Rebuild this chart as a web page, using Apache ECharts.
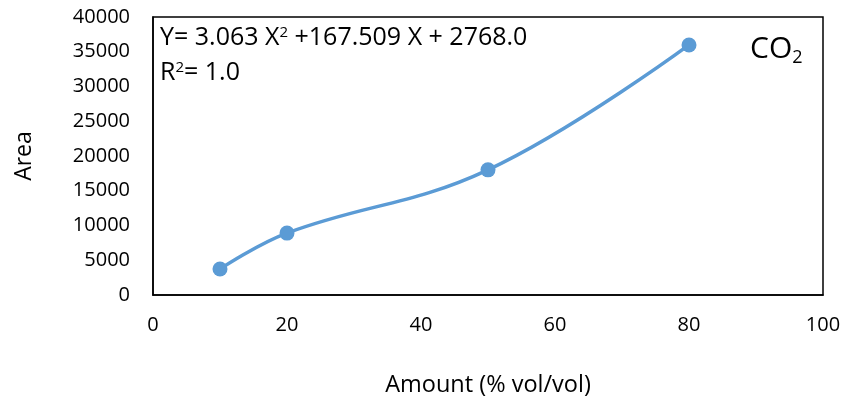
<!DOCTYPE html>
<html><head><meta charset="utf-8">
<script src="https://cdn.jsdelivr.net/npm/echarts@6/dist/echarts.min.js"></script>
<style>html,body{margin:0;padding:0;background:#fff}#c{width:846px;height:402px}</style>
</head><body><div id="c"></div>
<script>
const amounts = [10, 20, 50, 80];
const areas = [3740, 8910, 18010, 35980];
const xTicks = [0, 20, 40, 60, 80, 100];
const yTicks = [0, 5000, 10000, 15000, 20000, 25000, 30000, 35000, 40000];
const FONT = '"Open Sans", "Noto Sans", sans-serif';

const chart = echarts.init(document.getElementById('c'), null, {renderer: 'canvas'});
chart.setOption({
  animation: false,
  backgroundColor: '#fff',
  grid: {left: 153, right: 23, top: 17, bottom: 107, outerBoundsMode: 'none', containLabel: false,
         show: true, borderColor: '#000', borderWidth: 1.5, backgroundColor: 'transparent'},
  xAxis: {
    type: 'value', min: xTicks[0], max: xTicks[xTicks.length-1], interval: 20,
    name: 'Amount (% vol/vol)', nameLocation: 'middle', nameGap: 78,
    nameTextStyle: {fontFamily: FONT, fontSize: 23.5, color: '#000'},
    axisLine: {show: true, lineStyle: {color: '#000', width: 1.5}},
    axisTick: {show: false}, splitLine: {show: false},
    axisLabel: {fontFamily: FONT, fontSize: 20, color: '#000', margin: 20, formatter: v => String(v)}
  },
  yAxis: {
    type: 'value', min: yTicks[0], max: yTicks[yTicks.length-1], interval: 5000,
    name: 'Area', nameLocation: 'middle', nameGap: 117, nameRotate: 90,
    nameTextStyle: {fontFamily: FONT, fontSize: 23, color: '#000'},
    axisLine: {show: true, lineStyle: {color: '#000', width: 1.5}},
    axisTick: {show: false}, splitLine: {show: false},
    axisLabel: {fontFamily: FONT, fontSize: 20, color: '#000', margin: 23, formatter: v => String(v)}
  },
  series: [{
    type: 'line',
    data: amounts.map((a, i) => [a, areas[i]]),
    smooth: 0.4,
    symbol: 'circle', symbolSize: 15,
    lineStyle: {color: '#5B9BD5', width: 3.5},
    itemStyle: {color: '#5B9BD5'}
  }],
  graphic: [
    {type: 'text', left: 160, top: 25, style: {
      text: '{n|Y= 3.063 X}{s|2}{n| +167.509 X + 2768.0}',
      rich: {n: {fontFamily: FONT, fontSize: 25, fill: '#000', verticalAlign: 'middle', lineHeight: 24},
             s: {fontFamily: FONT, fontSize: 15, fill: '#000', verticalAlign: 'top', lineHeight: 14}}
    }},
    {type: 'text', left: 160, top: 60, style: {
      text: '{n|R}{s|2}{n|= 1.0}',
      rich: {n: {fontFamily: FONT, fontSize: 25, fill: '#000', verticalAlign: 'middle', lineHeight: 24},
             s: {fontFamily: FONT, fontSize: 15, fill: '#000', verticalAlign: 'top', lineHeight: 14}}
    }},
    {type: 'text', left: 750, top: 34, style: {
      text: '{n|CO}{s|2}',
      rich: {n: {fontFamily: FONT, fontSize: 30, fill: '#000', verticalAlign: 'middle', lineHeight: 36},
             s: {fontFamily: FONT, fontSize: 18, fill: '#000', verticalAlign: 'bottom', lineHeight: 18}}
    }}
  ]
});
</script></body></html>
